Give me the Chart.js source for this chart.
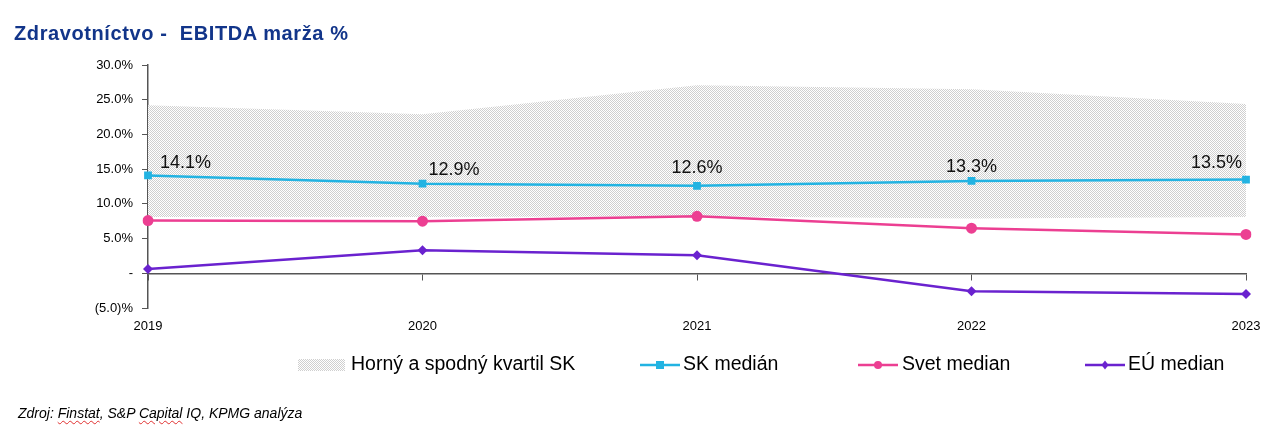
<!DOCTYPE html>
<html><head><meta charset="utf-8">
<script src="https://cdn.jsdelivr.net/npm/chart.js@4"></script>
<style>
html,body{margin:0;padding:0;background:#fff;width:1281px;height:439px;overflow:hidden;font-family:"Liberation Sans",Arial,sans-serif}
#wrap{position:absolute;left:0;top:0;width:1281px;height:439px}
#title{position:absolute;left:14px;top:22px;font-weight:bold;font-size:20px;letter-spacing:0.6px;color:#12358a;white-space:pre}
#foot{position:absolute;left:18px;top:405px;font-style:italic;font-size:14px;color:#000}
.sq{text-decoration:underline wavy #e03030;text-decoration-thickness:1px;text-underline-offset:2px}
</style></head><body>
<div id="wrap"><canvas id="c" width="1281" height="439"></canvas></div>
<div id="title">Zdravotníctvo -  EBITDA marža %</div>
<div id="foot">Zdroj: <span class="sq">Finstat</span>, S&amp;P <span class="sq">Capital</span> IQ, KPMG analýza</div>
<script>
const years = ['2019','2020','2021','2022','2023'];
const skMedian = [14.1, 12.9, 12.6, 13.3, 13.5];
const svetMedian = [7.6, 7.5, 8.2, 6.5, 5.6];
const euMedian = [0.6, 3.3, 2.6, -2.6, -3.0];
const kvartilUpper = [24.2, 22.9, 27.1, 26.5, 24.4];
const kvartilLower = [8.1, 8.1, 8.2, 7.9, 8.1];
const yTicks = [-5, 0, 5, 10, 15, 20, 25, 30];
const legendLabels = ['Horný a spodný kvartil SK', 'SK medián', 'Svet median', 'EÚ median'];

const C_SK = '#22b3e2', C_SVET = '#ec3f92', C_EU = '#6a22cf';
const FONT = '"Liberation Sans", Arial, sans-serif';

const ctx0 = document.getElementById('c').getContext('2d');
const pat = (function(){
  const p = document.createElement('canvas'); p.width = 2; p.height = 2;
  const g = p.getContext('2d');
  g.fillStyle = '#ffffff'; g.fillRect(0,0,2,2);
  g.fillStyle = '#cfcfcf'; g.fillRect(0,0,1,1); g.fillRect(1,1,1,1);
  return ctx0.createPattern(p, 'repeat');
})();

function fmt(v){
  if (v === 0) return '-';
  if (v < 0) return '(' + Math.abs(v).toFixed(1) + ')%';
  return v.toFixed(1) + '%';
}

const labelOffsets = [[12,'left',-12],[6,'left',-14],[0,'center',-18],[0,'center',-14],[-4,'right',-17]];

const dataLabels = {
  id:'dataLabels',
  afterDatasetsDraw(chart){
    const meta = chart.getDatasetMeta(2);
    const g = chart.ctx; g.save();
    g.font = '18px ' + FONT;
    g.fillStyle = '#111'; g.textBaseline = 'middle';
    meta.data.forEach((pt,i)=>{
      const o = labelOffsets[i];
      g.textAlign = o[1];
      g.fillText(skMedian[i].toFixed(1) + '%', pt.x + o[0], pt.y + o[2]);
    });
    g.restore();
  }
};

const legendPlugin = {
  id:'customLegend',
  afterDraw(chart){
    const g = chart.ctx; g.save();
    const y = 365;
    g.font = '19.5px ' + FONT;
    g.textBaseline = 'middle'; g.textAlign = 'left';
    g.fillStyle = pat; g.fillRect(298, 359, 47, 12);
    g.fillStyle = '#000'; g.fillText(legendLabels[0], 351, y);
    const items = [[640, C_SK, 'rect', 683, legendLabels[1]],[858, C_SVET, 'circle', 902, legendLabels[2]],[1085, C_EU, 'diamond', 1128, legendLabels[3]]];
    items.forEach(it=>{
      g.strokeStyle = it[1]; g.lineWidth = 2.5;
      g.beginPath(); g.moveTo(it[0], y); g.lineTo(it[0]+40, y); g.stroke();
      g.fillStyle = it[1];
      const cx = it[0]+20;
      if (it[2]==='rect') g.fillRect(cx-4, y-4, 8, 8);
      else if (it[2]==='circle'){ g.beginPath(); g.arc(cx, y, 4, 0, Math.PI*2); g.fill(); }
      else { g.beginPath(); g.moveTo(cx, y-4.5); g.lineTo(cx+3.5, y); g.lineTo(cx, y+4.5); g.lineTo(cx-3.5, y); g.closePath(); g.fill(); }
      g.fillStyle = '#000'; g.fillText(it[4], it[3], y);
    });
    g.restore();
  }
};

new Chart(document.getElementById('c'), {
  type:'line',
  data:{
    labels: years,
    datasets:[
      {label:'lower', data:kvartilLower, borderWidth:0, pointRadius:0, fill:false, order:10, borderColor:'rgba(0,0,0,0)'},
      {label:legendLabels[0], data:kvartilUpper, borderWidth:0, pointRadius:0, fill:'-1', backgroundColor:pat, order:9, borderColor:'rgba(0,0,0,0)'},
      {label:legendLabels[1], data:skMedian, borderColor:C_SK, backgroundColor:C_SK, borderWidth:2.5, pointStyle:'rect', pointRadius:5.5, pointBorderWidth:0, order:3},
      {label:legendLabels[2], data:svetMedian, borderColor:C_SVET, backgroundColor:C_SVET, borderWidth:2.5, pointStyle:'circle', pointRadius:5.5, pointBorderWidth:0, order:2},
      {label:legendLabels[3], data:euMedian, borderColor:C_EU, backgroundColor:C_EU, borderWidth:2.5, pointStyle:'rectRot', pointRadius:5, pointBorderWidth:0, order:1}
    ]
  },
  options:{
    responsive:false, animation:false,
    layout:{padding:{left:88, right:35, top:65, bottom:106}},
    plugins:{legend:{display:false}, tooltip:{enabled:false}},
    elements:{line:{tension:0}},
    scales:{
      x:{
        type:'category', offset:false, position:'bottom',
        grid:{display:false, drawTicks:false},
        border:{display:false},
        ticks:{padding:11, color:'#000', font:{size:13, family:FONT}, maxRotation:0, autoSkip:false},
        afterFit(s){ s.height = 25; }
      },
      x0:{
        type:'category', labels: years, offset:false, position:{y:0},
        grid:{drawOnChartArea:false, drawTicks:true, tickLength:6, color:'#555', lineWidth:1},
        border:{display:true, color:'#555', width:1.5},
        ticks:{display:false}
      },
      y:{
        min:-5, max:30,
        afterBuildTicks(s){ s.ticks = yTicks.map(v=>({value:v})); },
        grid:{drawOnChartArea:false, drawTicks:true, tickLength:6, color:'#555'},
        border:{display:true, color:'#555', width:1.5},
        ticks:{padding:9, color:'#000', font:{size:13, family:FONT}, callback:(v)=>fmt(v)},
        afterFit(s){ s.width = 60; }
      }
    }
  },
  plugins:[dataLabels, legendPlugin]
});
</script>
</body></html>
